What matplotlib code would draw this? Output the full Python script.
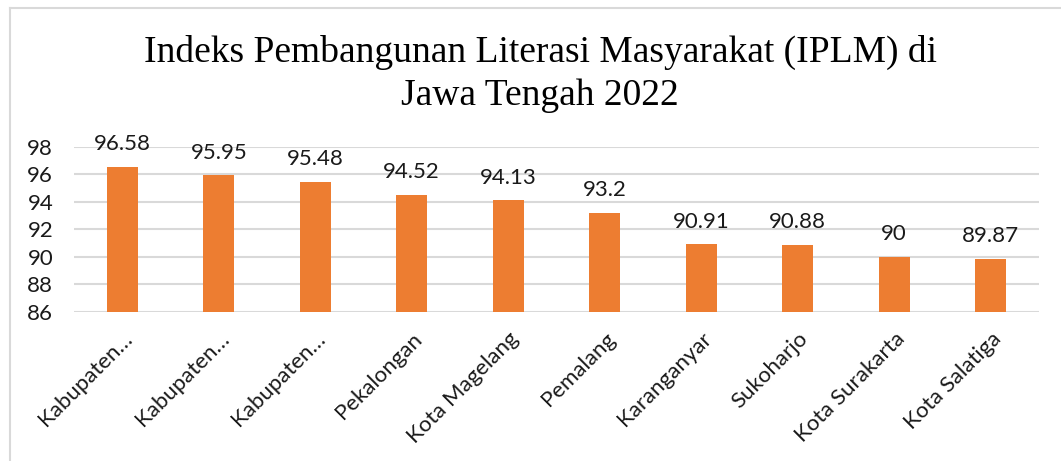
import matplotlib
matplotlib.use("Agg")
from matplotlib import pyplot as plt
from matplotlib.lines import Line2D

# data
regions = ['Kabupaten…', 'Kabupaten…', 'Kabupaten…', 'Pekalongan', 'Kota Magelang',
           'Pemalang', 'Karanganyar', 'Sukoharjo', 'Kota Surakarta', 'Kota Salatiga']
iplm = [96.58, 95.95, 95.48, 94.52, 94.13, 93.2, 90.91, 90.88, 90, 89.87]
yticks = [86, 88, 90, 92, 94, 96, 98]

W, H = 1061, 461
fig = plt.figure(figsize=(W / 100, H / 100), dpi=100)
ax = fig.add_axes([74 / W, 1 - 312 / H, (1039 - 74) / W, (312 - 147) / H])

x = range(len(regions))
bars = ax.bar(x, iplm, width=0.32, color='#ED7D31', zorder=3)
for xi, v in zip(x, iplm):
    ax.annotate('{:g}'.format(v), (xi, v), xytext=(0, 9), textcoords='offset points',
                ha='center', va='bottom', fontsize=16, family='Lato', color='#1a1a1a')

ax.set_ylim(86, 98)
ax.set_xlim(-0.5, len(regions) - 0.5)
ax.set_yticks(yticks)
ax.set_yticklabels([str(t) for t in yticks], family='Lato', fontsize=16, color='#1a1a1a')
ax.grid(axis='y', color='#D9D9D9', linewidth=1.5, zorder=0)
ax.set_xticks(list(x))
ax.set_xticklabels(regions, rotation=45, ha='right', va='top', rotation_mode='anchor',
                   family='Lato', fontsize=16, color='#1a1a1a')
ax.tick_params(length=0, axis='both')
ax.tick_params(axis='y', pad=15)
ax.tick_params(axis='x', pad=12)
for s in ax.spines.values():
    s.set_visible(False)

fig.text(540 / W, 1 - 52 / H, 'Indeks Pembangunan Literasi Masyarakat (IPLM) di',
         ha='center', va='center', family='Liberation Serif', fontsize=27)
fig.text(540 / W, 1 - 96 / H, 'Jawa Tengah 2022',
         ha='center', va='center', family='Liberation Serif', fontsize=27)

# chart border (top and left edges visible)
fig.add_artist(Line2D([10 / W, 1], [1 - 8.5 / H, 1 - 8.5 / H], color='#D9D9D9', linewidth=1.5))
fig.add_artist(Line2D([10 / W, 10 / W], [0, 1 - 8.5 / H], color='#D9D9D9', linewidth=1.5))

fig.savefig('out.png', dpi=100)
